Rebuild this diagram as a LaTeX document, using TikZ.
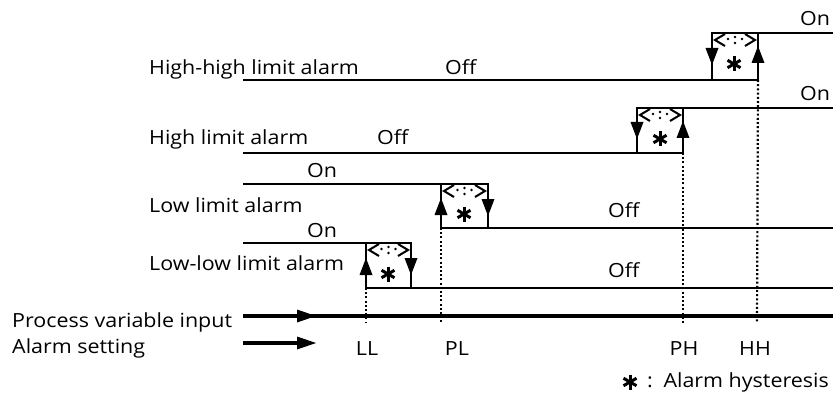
\documentclass[tikz,border=0pt]{standalone}
\usepackage{fontspec}
\setmainfont[FakeStretch=1.1]{Open Sans}
\usetikzlibrary{arrows.meta}
\newcommand\astk[3]{% x, y, radius
  \draw[line width=3pt] (#1,#2-#3) -- (#1,#2+#3);
  \draw[line width=3pt] (#1-0.866*#3,#2-0.5*#3) -- (#1+0.866*#3,#2+0.5*#3);
  \draw[line width=3pt] (#1-0.866*#3,#2+0.5*#3) -- (#1+0.866*#3,#2-0.5*#3);}
\newcommand\uptri[2]{% x, tip y
  \fill (#1,#2) -- (#1-6.5,#2+17) -- (#1+6.5,#2+17) -- cycle;}
\newcommand\dntri[2]{% x, tip y
  \fill (#1,#2) -- (#1-6.5,#2-17) -- (#1+6.5,#2-17) -- cycle;}
\newcommand\chev[3]{% left x, right x, top y
  \draw[line width=2pt] (#1+13,#3+1) -- (#1+3,#3+7) -- (#1+13,#3+13);
  \draw[line width=2pt] (#2-13,#3+1) -- (#2-3,#3+7) -- (#2-13,#3+13);
  \fill ({(#1+#2)/2-7},#3+6) circle (1.3pt);
  \fill ({(#1+#2)/2},#3+4) circle (1.3pt);
  \fill ({(#1+#2)/2},#3+10) circle (1.3pt);
  \fill ({(#1+#2)/2+7},#3+6) circle (1.3pt);}
\begin{document}
\begin{tikzpicture}[x=1pt,y=-1pt,
  lbl/.style={font=\fontsize{19.5}{19.5}\selectfont, inner sep=0pt},
  sig/.style={line width=2.8pt},
  guide/.style={line width=2.2pt, dash pattern=on 2pt off 2.2pt},
  axisln/.style={line width=3.2pt}]
\useasboundingbox (0,0) rectangle (833,393);
% ---------- High-high limit alarm ----------
\coordinate (hhA) at (243,80);
\coordinate (hhB) at (758,80);
\coordinate (hhC) at (758,33);
\coordinate (hhD) at (712,33);
\coordinate (hhE) at (712,80);
\coordinate (hhF) at (833,33);
\draw[sig] (hhA) -- (hhB) -- (hhC);
\draw[sig] (hhF) -- (hhD) -- (hhE);
\dntri{712}{65}\uptri{758}{46}
\chev{712}{758}{33}
\astk{734}{64}{7.5}
\node[lbl,anchor=base west] (thh) at (149,75) {High-high limit alarm};
\node[lbl,anchor=base west] (thhoff) at (445,75) {Off};
\node[lbl,anchor=base west] (thhon) at (800,26) {On};
% ---------- High limit alarm ----------
\coordinate (hA) at (243,153);
\coordinate (hB) at (683,153);
\coordinate (hC) at (683,108);
\coordinate (hD) at (637,108);
\coordinate (hE) at (637,153);
\coordinate (hF) at (833,108);
\draw[sig] (hA) -- (hB) -- (hC);
\draw[sig] (hF) -- (hD) -- (hE);
\dntri{637}{139}\uptri{683}{121}
\chev{637}{683}{108}
\astk{660}{139}{7.5}
\node[lbl,anchor=base west] (th) at (149,145) {High limit alarm};
\node[lbl,anchor=base west] (thoff) at (377,145) {Off};
\node[lbl,anchor=base west] (thon) at (800,101) {On};
% ---------- Low limit alarm ----------
\coordinate (lA) at (243,184);
\coordinate (lB) at (488,184);
\coordinate (lC) at (488,228);
\coordinate (lD) at (441,228);
\coordinate (lE) at (441,184);
\coordinate (lF) at (833,228);
\draw[sig] (lA) -- (lB) -- (lC);
\draw[sig] (lF) -- (lD) -- (lE);
\uptri{441}{198}\dntri{488}{216}
\chev{441}{488}{184}
\astk{464}{214}{7.5}
\node[lbl,anchor=base west] (tl) at (149,212) {Low limit alarm};
\node[lbl,anchor=base west] (tloff) at (608,218) {Off};
\node[lbl,anchor=base west] (tlon) at (307,178) {On};
% ---------- Low-low limit alarm ----------
\coordinate (llA) at (243,243);
\coordinate (llB) at (411,243);
\coordinate (llC) at (411,288);
\coordinate (llD) at (366,288);
\coordinate (llE) at (366,243);
\coordinate (llF) at (833,288);
\draw[sig] (llA) -- (llB) -- (llC);
\draw[sig] (llF) -- (llD) -- (llE);
\uptri{366}{258}\dntri{411}{275}
\chev{366}{411}{243}
\astk{388}{274}{7.5}
\node[lbl,anchor=base west] (tll) at (149,270) {Low-low limit alarm};
\node[lbl,anchor=base west] (tlloff) at (608,277) {Off};
\node[lbl,anchor=base west] (tllon) at (307,237) {On};
% ---------- guides ----------
\coordinate (pv0) at (243,316);
\coordinate (pv1) at (833,316);
\coordinate (LLb) at (366,323);
\coordinate (PLb) at (441,323);
\coordinate (PHb) at (683,323);
\coordinate (HHb) at (757,323);
\draw[guide] (llD) -- (LLb);
\draw[guide] (lD) -- (PLb);
\draw[guide] (hB) -- (PHb);
\draw[guide] (hhB) -- (HHb);
\draw[axisln] (pv0) -- (pv1);
\fill (316,316) -- (297,309.5) -- (297,322.5) -- cycle;
\coordinate (as0) at (243,343);
\coordinate (as1) at (300,343);
\draw[axisln] (as0) -- (as1);
\fill (316,343) -- (297,336.5) -- (297,349.5) -- cycle;
\node[lbl,anchor=base west] (tpv) at (12,327) {Process variable input};
\node[lbl,anchor=base west] (tas) at (12,353) {Alarm setting};
\node[lbl,anchor=base] (tLL) at (367,355) {LL};
\node[lbl,anchor=base] (tPL) at (457,355) {PL};
\node[lbl,anchor=base] (tPH) at (684,355) {PH};
\node[lbl,anchor=base] (tHH) at (755,355) {HH};
% ---------- legend ----------
\astk{630}{382}{7.5}
\node[lbl,anchor=base] (tcolon) at (650,387) {:};
\node[lbl,anchor=base east] (tleg) at (829,387) {Alarm\ hysteresis};
\end{tikzpicture}
\end{document}
